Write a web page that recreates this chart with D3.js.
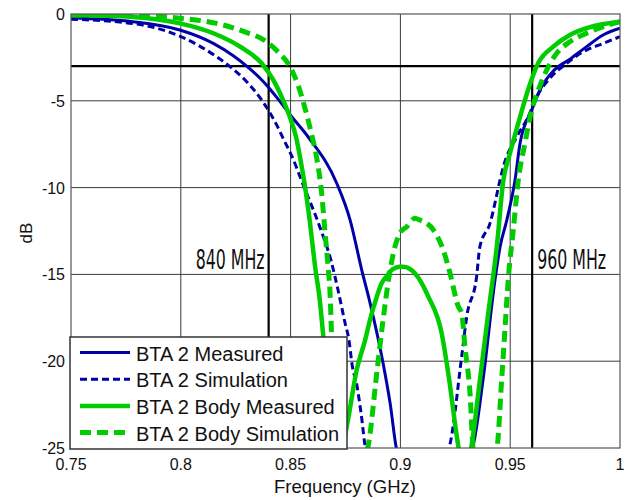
<!DOCTYPE html>
<meta charset="utf-8">
<style>
body { margin: 0; background: #fff; }
svg { font-family: Arial, "Liberation Sans", sans-serif; }
.grid line { stroke: #3a3a3a; stroke-width: 1; }
.tick-label { font-size: 16px; fill: #111; }
</style>
<body>
<script src="https://d3js.org/d3.v7.min.js"></script>
<script>

// values: [frequency GHz, dB]
var btaMeasured = [
  [0.75,-0.23],[0.7782,-0.44],[0.7996,-0.92],[0.8148,-1.69],[0.8239,-2.4],[0.83,-3.0],
  [0.8361,-3.7],[0.8398,-4.2],[0.8452,-5.05],[0.8506,-5.93],[0.8581,-7.1],
  [0.871,-9.75],[0.8771,-11.87],[0.8824,-14.75],[0.8862,-16.65],[0.8921,-20.1],[0.8953,-22.4],
  [0.8983,-25.1],[0.909,-28],[0.9325,-25.1],[0.9376,-21.1],[0.9431,-15.3],[0.9454,-13.4],
  [0.9484,-11.9],[0.9522,-9.56],[0.9545,-7.43],[0.9598,-5.53],[0.9643,-4.19],[0.9695,-3.3],
  [0.9772,-2.6],[0.9848,-1.88],[0.9923,-1.21],[1.0,-0.82]
];

var btaSimulation = [
  [0.75,-0.3],[0.7782,-0.55],[0.8,-1.3],[0.8163,-2.46],[0.8224,-3.03],[0.83,-3.9],
  [0.8368,-4.95],[0.8398,-5.53],[0.8437,-6.4],[0.8465,-7.14],[0.8506,-8.2],[0.8556,-9.8],
  [0.8634,-12.3],[0.8684,-14.2],[0.8716,-15.9],[0.8748,-17.8],[0.8766,-18.8],[0.878,-20.2],
  [0.8802,-21.4],[0.8821,-23.0],[0.8843,-25.1],[0.90,-28],[0.9218,-25.1],[0.9279,-19.74],
  [0.9302,-17.44],[0.9347,-15.13],[0.9362,-13.4],[0.9408,-12.06],[0.9454,-9.56],[0.9469,-8.8],
  [0.953,-7.07],[0.9582,-5.92],[0.9621,-4.76],[0.9681,-3.7],[0.9757,-2.84],[0.9833,-2.17],
  [0.9924,-1.69],[1.0,-1.31]
];

var bodyMeasured = [
  [0.75,-0.06],[0.7782,-0.17],[0.7996,-0.54],[0.8148,-1.11],[0.827,-1.88],[0.8368,-2.84],
  [0.8421,-3.8],[0.8467,-5.0],[0.8497,-5.95],[0.8525,-7.1],[0.8548,-8.6],[0.857,-10.3],
  [0.8588,-12.0],[0.8611,-14.5],[0.8634,-16.6],[0.8649,-18.6],[0.867,-21.7],[0.8693,-25.1],[0.8711,-26],
  [0.8734,-25.1],[0.8761,-23.4],[0.8801,-20.5],[0.8839,-18.8],[0.8862,-17.6],[0.8892,-16.3],
  [0.8915,-15.5],[0.8938,-15.1],[0.896,-14.75],[0.8998,-14.56],[0.9013,-14.56],[0.9066,-14.94],
  [0.9127,-16.28],[0.9188,-18.4],[0.9218,-20.7],[0.9264,-24.9],
  [0.929,-26.5],[0.9321,-25.1],[0.9362,-21.1],[0.94,-17.24],[0.9439,-13.4],[0.9469,-9.56],
  [0.9499,-8.02],[0.9545,-5.92],[0.9586,-4.19],[0.9627,-2.84],[0.9696,-1.88],[0.9772,-1.21],
  [0.9848,-0.82],[0.9924,-0.58],[1.0,-0.44]
];

var bodySimulation = [
  [0.75,-0.06],[0.7782,-0.06],[0.7996,-0.25],[0.8163,-0.54],[0.8285,-1.0],[0.8391,-1.6],
  [0.844,-2.15],[0.8497,-3.03],[0.8534,-4.1],[0.8565,-5.4],[0.8595,-6.9],[0.8619,-8.3],
  [0.8642,-10.4],[0.8657,-12.6],[0.8672,-14.75],[0.8679,-15.9],
  [0.8687,-18.6],[0.8698,-21.7],[0.8707,-25.1],[0.878,-27],[0.8852,-24.94],[0.8893,-20.62],
  [0.8921,-17.63],[0.8948,-15.15],[0.8975,-13.42],[0.8998,-12.62],[0.9029,-12.25],[0.9066,-11.77],
  [0.9089,-11.87],[0.915,-12.44],[0.9195,-13.59],[0.9226,-14.94],[0.9264,-16.86],[0.9279,-17.24],
  [0.9294,-19.16],[0.9317,-21.85],[0.9332,-25.1],[0.9385,-26.8],[0.9439,-25.1],[0.9461,-21.1],
  [0.9476,-18.2],[0.9491,-15.3],[0.9514,-12.44],[0.9537,-9.56],[0.9567,-7.45],[0.9598,-5.53],
  [0.9628,-4.38],[0.9666,-3.23],[0.9712,-2.26],[0.9772,-1.6],[0.9848,-1.11],[0.9924,-0.73],
  [1.0,-0.44]
];

var seriesNames = ["BTA 2 Measured", "BTA 2 Simulation", "BTA 2 Body Measured", "BTA 2 Body Simulation"];
var xTicks = [0.75, 0.8, 0.85, 0.9, 0.95, 1];
var yTicks = [0, -5, -10, -15, -20, -25];
var markers = [{f: 0.84, label: "840 MHz"}, {f: 0.96, label: "960 MHz"}];
var halfPowerDb = -3;

var styles = [
  {color: "#0000a8", width: 3, dash: null},
  {color: "#0000a8", width: 3, dash: "7,4"},
  {color: "#00cc00", width: 4.5, dash: null},
  {color: "#00cc00", width: 5, dash: "11,6"}
];
var allSeries = [btaMeasured, btaSimulation, bodyMeasured, bodySimulation];

var width = 635, height = 500;
var plot = {left: 71, right: 620, top: 14, bottom: 448};

var x = d3.scaleLinear().domain([0.75, 1]).range([plot.left, plot.right]);
var y = d3.scaleLinear().domain([-25, 0]).range([plot.bottom, plot.top]);

var svg = d3.select("body").append("svg")
    .attr("width", width)
    .attr("height", height);

svg.append("defs").append("clipPath").attr("id", "clip")
  .append("rect")
    .attr("x", plot.left).attr("y", plot.top)
    .attr("width", plot.right - plot.left).attr("height", plot.bottom - plot.top);

// grid
var grid = svg.append("g").attr("class", "grid");
grid.selectAll(".gx").data(xTicks.slice(1, -1)).enter().append("line")
    .attr("x1", function(d) { return x(d); }).attr("x2", function(d) { return x(d); })
    .attr("y1", plot.top).attr("y2", plot.bottom);
grid.selectAll(".gy").data(yTicks.slice(1, -1)).enter().append("line")
    .attr("x1", plot.left).attr("x2", plot.right)
    .attr("y1", function(d) { return y(d); }).attr("y2", function(d) { return y(d); });

// thick marker lines
svg.selectAll(".mark").data(markers).enter().append("line")
    .attr("x1", function(d) { return x(d.f); }).attr("x2", function(d) { return x(d.f); })
    .attr("y1", plot.top).attr("y2", plot.bottom)
    .attr("stroke", "#000").attr("stroke-width", 2.2);
svg.append("line")
    .attr("x1", plot.left).attr("x2", plot.right)
    .attr("y1", y(halfPowerDb)).attr("y2", y(halfPowerDb))
    .attr("stroke", "#000").attr("stroke-width", 2.2);

svg.selectAll(".mlabel").data(markers).enter().append("text")
    .attr("x", function(d, i) { return i === 0 ? x(d.f) - 73 : x(d.f) + 5; })
    .attr("y", 269)
    .attr("textLength", 69)
    .attr("lengthAdjust", "spacingAndGlyphs")
    .style("font-family", "'DejaVu Sans Condensed', 'DejaVu Sans', sans-serif")
    .style("font-size", "26px")
    .attr("fill", "#111")
    .text(function(d) { return d.label; });

// curves
var line = d3.line()
    .x(function(d) { return x(d[0]); })
    .y(function(d) { return y(d[1]); })
    .curve(d3.curveMonotoneX);

svg.append("g").attr("clip-path", "url(#clip)")
  .selectAll("path").data(allSeries).enter().append("path")
    .attr("d", line)
    .attr("fill", "none")
    .attr("stroke", function(d, i) { return styles[i].color; })
    .attr("stroke-width", function(d, i) { return styles[i].width; })
    .attr("stroke-dasharray", function(d, i) { return styles[i].dash; })
    .attr("stroke-linejoin", "round");

// box
svg.append("rect")
    .attr("x", plot.left).attr("y", plot.top)
    .attr("width", plot.right - plot.left).attr("height", plot.bottom - plot.top)
    .attr("fill", "none").attr("stroke", "#555").attr("stroke-width", 1.2);

// axes labels
svg.selectAll(".xt").data(xTicks).enter().append("text")
    .attr("class", "tick-label")
    .attr("x", function(d) { return x(d); })
    .attr("y", 470)
    .attr("text-anchor", "middle")
    .text(function(d) { return d3.format("")(d); });

svg.selectAll(".yt").data(yTicks).enter().append("text")
    .attr("class", "tick-label")
    .attr("x", plot.left - 6)
    .attr("y", function(d) { return y(d) + 6; })
    .attr("text-anchor", "end")
    .text(function(d) { return d; });

svg.append("text")
    .attr("x", 345).attr("y", 493)
    .attr("text-anchor", "middle")
    .style("font-size", "18.5px")
    .attr("fill", "#111")
    .text("Frequency (GHz)");

svg.append("text")
    .attr("transform", "translate(32,233) rotate(-90)")
    .attr("text-anchor", "middle")
    .style("font-size", "17px")
    .attr("fill", "#111")
    .text("dB");

// legend
var legend = svg.append("g");
legend.append("rect")
    .attr("x", 70).attr("y", 337)
    .attr("width", 277).attr("height", 112)
    .attr("fill", "#fff").attr("stroke", "#333").attr("stroke-width", 1.5);

var rows = legend.selectAll(".row").data(seriesNames).enter().append("g")
    .attr("transform", function(d, i) { return "translate(0," + (352.5 + i * 26.7) + ")"; });
rows.append("line")
    .attr("x1", 80).attr("x2", 130)
    .attr("stroke", function(d, i) { return styles[i].color; })
    .attr("stroke-width", function(d, i) { return styles[i].width; })
    .attr("stroke-dasharray", function(d, i) { return styles[i].dash; });
rows.append("text")
    .attr("x", 136).attr("y", 8)
    .style("font-size", "20px")
    .attr("fill", "#111")
    .text(function(d) { return d; });

</script>
